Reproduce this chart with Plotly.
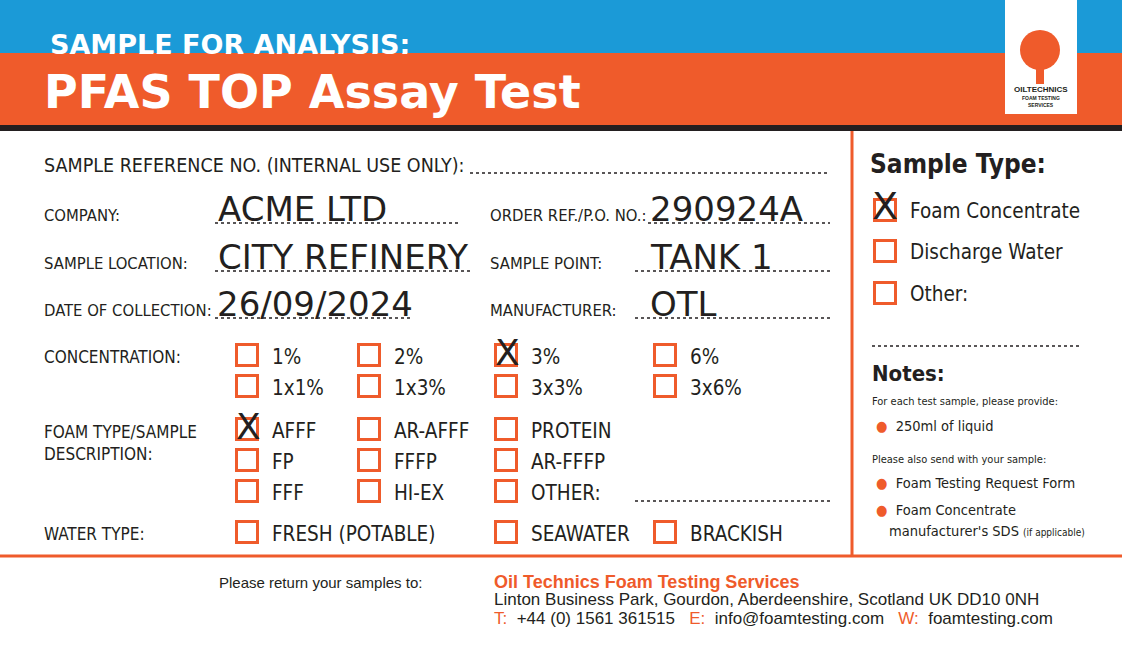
import plotly.graph_objects as go

W, H = 1122, 650
ORANGE = "#ef5b2b"
BLUE = "#1b9ad7"
DARK = "#231f20"
FONT = "Liberation Sans Narrow, DejaVu Sans Condensed, Arial Narrow, sans-serif"
HAND = "DejaVu Sans, sans-serif"

# ---- data ----
field_labels = ["SAMPLE REFERENCE NO. (INTERNAL USE ONLY):", "COMPANY:", "ORDER REF./P.O. NO.:",
                "SAMPLE LOCATION:", "SAMPLE POINT:", "DATE OF COLLECTION:", "MANUFACTURER:"]
field_x = [42, 42, 488, 42, 488, 42, 488]
field_y = [165, 215, 215, 263, 263, 310, 310]
dot_x0 = [470, 215, 648, 215, 635, 215, 635]
dot_x1 = [828, 460, 830, 470, 830, 410, 830]
hand_values = ["", "ACME LTD", "290924A", "CITY REFINERY", "TANK 1", "26/09/2024", "OTL"]
hand_x = [0, 216, 648, 216, 648, 215, 648]

section_labels = ["CONCENTRATION:", "FOAM TYPE/SAMPLE<br>DESCRIPTION:", "WATER TYPE:"]
section_y = [357, 443, 534]

box_labels = ["1%", "2%", "3%", "6%", "1x1%", "1x3%", "3x3%", "3x6%",
              "AFFF", "AR-AFFF", "PROTEIN", "FP", "FFFP", "AR-FFFP", "FFF", "HI-EX", "OTHER:",
              "FRESH (POTABLE)", "SEAWATER", "BRACKISH"]
box_x = [247, 369, 506, 665, 247, 369, 506, 665,
         247, 369, 506, 247, 369, 506, 247, 369, 506,
         247, 506, 665]
box_y = [355, 355, 355, 355, 386, 386, 386, 386,
         429, 429, 429, 460, 460, 460, 491, 491, 491,
         532, 532, 532]
box_checked = ["3%", "AFFF"]

type_labels = ["Foam Concentrate", "Discharge Water", "Other:"]
type_y = [210, 251, 293]
type_checked = ["Foam Concentrate"]

fig = go.Figure()

shapes = [
    dict(type="rect", x0=0, x1=W, y0=0, y1=53, fillcolor=BLUE, line_width=0),
    dict(type="rect", x0=0, x1=W, y0=53, y1=125, fillcolor=ORANGE, line_width=0),
    dict(type="rect", x0=0, x1=W, y0=125, y1=131, fillcolor=DARK, line_width=0),
    dict(type="rect", x0=1005, x1=1077, y0=0, y1=114, fillcolor="white", line_width=0),
    dict(type="circle", x0=1020, x1=1060, y0=30, y1=70, fillcolor=ORANGE, line_width=0),
    dict(type="rect", x0=1036, x1=1044, y0=68, y1=84, fillcolor=ORANGE, line_width=0),
    dict(type="line", x0=852, x1=852, y0=131, y1=555, line=dict(color=ORANGE, width=3)),
    dict(type="line", x0=0, x1=W, y0=556, y1=556, line=dict(color=ORANGE, width=3)),
    dict(type="line", x0=872, x1=1080, y0=346, y1=346, line=dict(color=DARK, width=1.5, dash="dot")),
    dict(type="line", x0=635, x1=830, y0=501, y1=501, line=dict(color=DARK, width=1.5, dash="dot")),
]
for a, b, y in zip(dot_x0, dot_x1, field_y):
    shapes.append(dict(type="line", x0=a, x1=b, y0=y + 8, y1=y + 8,
                       line=dict(color=DARK, width=1.5, dash="dot")))

ann = []
def txt(x, y, t, size, color=DARK, family=FONT, anchor="left", bold=False):
    if bold:
        t = "<b>" + t + "</b>"
    ann.append(dict(x=x, y=y, text=t, showarrow=False, xanchor=anchor, yanchor="middle",
                    align="left", font=dict(size=size, color=color, family=family)))

txt(48, 44, "SAMPLE FOR ANALYSIS:", 27, "white", "DejaVu Sans", bold=True)
txt(42, 92, "PFAS TOP Assay Test", 46, "white", "DejaVu Sans", bold=True)
txt(1041, 89, "OILTECHNICS", 8, DARK, "Arial", "center", True)
txt(1041, 98, "FOAM TESTING", 5, DARK, "Arial", "center", True)
txt(1041, 105, "SERVICES", 5, DARK, "Arial", "center", True)

for lab, x, y in zip(field_labels, field_x, field_y):
    txt(x, y, lab, 19.5 if y == 165 else 16.5)
for v, x, y in zip(hand_values, hand_x, field_y):
    if v:
        txt(x, y - 6, v, 34, DARK, HAND)
for lab, y in zip(section_labels, section_y):
    txt(42, y, lab, 17)

fig.add_trace(go.Scatter(x=box_x, y=box_y, mode="markers", hoverinfo="skip",
                         marker=dict(symbol="square-open", size=21, color=ORANGE, line=dict(width=3, color=ORANGE))))
for lab, x, y in zip(box_labels, box_x, box_y):
    txt(x + 23, y + 2, lab, 20.5)
    if lab in box_checked:
        txt(x + 1, y - 3, "X", 36, DARK, HAND, "center")

type_x = [885] * len(type_labels)
fig.add_trace(go.Scatter(x=type_x, y=type_y, mode="markers", hoverinfo="skip",
                         marker=dict(symbol="square-open", size=21, color=ORANGE, line=dict(width=3, color=ORANGE))))
for lab, x, y in zip(type_labels, type_x, type_y):
    txt(x + 23, y + 1, lab, 20.5)
    if lab in type_checked:
        txt(x, y - 4, "X", 38, DARK, HAND, "center")

txt(868, 164, "Sample Type:", 26, DARK, FONT, bold=True)
txt(870, 373, "Notes:", 22, DARK, FONT, bold=True)
txt(870, 401, "For each test sample, please provide:", 11)
txt(874, 426, "<span style='color:%s'>●</span>  250ml of liquid" % ORANGE, 14.5)
txt(870, 459, "Please also send with your sample:", 11)
txt(874, 483, "<span style='color:%s'>●</span>  Foam Testing Request Form" % ORANGE, 14.5)
txt(874, 510, "<span style='color:%s'>●</span>  Foam Concentrate" % ORANGE, 14.5)
txt(887, 531, "manufacturer's SDS <span style='font-size:10px'>(if applicable)</span>", 14.5)

txt(217, 582, "Please return your samples to:", 15, DARK, "Arial")
txt(492, 582, "Oil Technics Foam Testing Services", 18, ORANGE, "Arial", bold=True)
txt(492, 599, "Linton Business Park, Gourdon, Aberdeenshire, Scotland UK DD10 0NH", 17, DARK, "Arial")
txt(492, 618, "<span style='color:%s'>T:</span>  +44 (0) 1561 361515   <span style='color:%s'>E:</span>  info@foamtesting.com   <span style='color:%s'>W:</span>  foamtesting.com" % (ORANGE, ORANGE, ORANGE), 17, DARK, "Arial")

fig.update_layout(width=W, height=H, margin=dict(l=0, r=0, t=0, b=0),
                  paper_bgcolor="white", plot_bgcolor="white", showlegend=False,
                  shapes=shapes, annotations=ann,
                  xaxis=dict(range=[0, W], visible=False, fixedrange=True),
                  yaxis=dict(range=[H, 0], visible=False, fixedrange=True))
fig.write_html("out.html", config={"displayModeBar": False},
               post_script="document.body.style.margin='0';document.body.style.overflow='hidden';")
